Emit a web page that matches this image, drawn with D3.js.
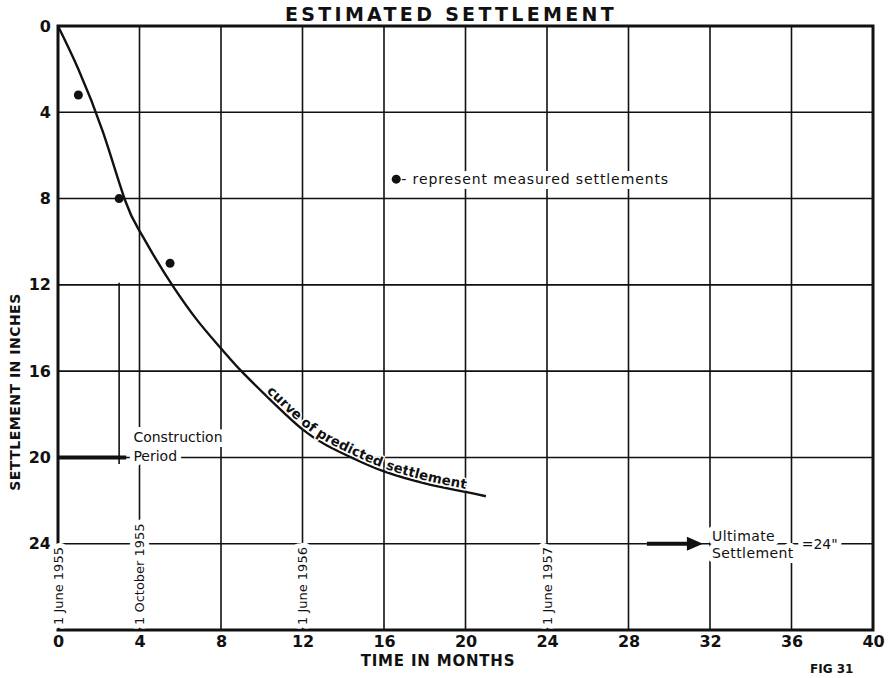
<!DOCTYPE html>
<html>
<head>
<meta charset="utf-8">
<script src="https://cdn.jsdelivr.net/npm/d3@7"></script>
<style>
  body { margin: 0; background: #fff; }
  text { font-family: "DejaVu Sans", sans-serif; fill: #111; }
</style>
</head>
<body>
<script>
// predicted settlement curve (months, inches)
var curveMonths = [0, 1.0, 2.2, 3.3, 4.0, 4.8, 5.6, 6.8, 8.05, 9.0, 10.5, 12.0, 13.2, 14.5, 16.0, 18.0, 20.0, 21.0];
var curveInches = [0, 2.0, 4.9, 8.1, 9.5, 10.8, 12.0, 13.6, 15.0, 16.0, 17.4, 18.7, 19.45, 20.05, 20.65, 21.2, 21.6, 21.8];

// measured settlements
var measuredMonths = [1, 3, 5.5];
var measuredInches = [3.2, 8, 11];

var xTicks = [0, 4, 8, 12, 16, 20, 24, 28, 32, 36, 40];
var yTicks = [0, 4, 8, 12, 16, 20, 24];

var dateLabels = ["1 June 1955", "1 October 1955", "1 June 1956", "1 June 1957"];
var dateMonths = [0, 4, 12, 24];

var constructionEnd = 3;
var ultimateSettlement = 24;

var margin = {top: 26, right: 17, bottom: 48, left: 58},
    width = 890 - margin.left - margin.right,
    height = 678 - margin.top - margin.bottom;

var svg = d3.select("body").append("svg")
    .attr("width", 890)
    .attr("height", 678);

var g = svg.append("g")
    .attr("transform", "translate(" + margin.left + "," + margin.top + ")");

var x = d3.scaleLinear().domain([0, 40]).range([0, width]);
var y = d3.scaleLinear().domain([0, 28]).range([0, height]);

// grid
g.append("g").selectAll("line")
    .data(xTicks.slice(1, -1))
    .enter().append("line")
      .attr("x1", d => x(d)).attr("x2", d => x(d))
      .attr("y1", 0).attr("y2", height)
      .attr("stroke", "#111").attr("stroke-width", 1.6);

g.append("g").selectAll("line")
    .data(yTicks.slice(1))
    .enter().append("line")
      .attr("x1", 0).attr("x2", width)
      .attr("y1", d => y(d)).attr("y2", d => y(d))
      .attr("stroke", "#111").attr("stroke-width", 1.6);

// frame
g.append("rect")
    .attr("width", width).attr("height", height)
    .attr("fill", "none").attr("stroke", "#111").attr("stroke-width", 3);

// axes labels
var yAxis = d3.axisLeft(y).tickValues(yTicks).tickSize(0).tickPadding(7);
g.append("g").call(yAxis)
    .call(s => s.select(".domain").remove())
    .selectAll("text")
      .style("font-size", "16px").style("font-weight", "bold").attr("fill", "#111");

var xAxis = d3.axisBottom(x).tickValues(xTicks).tickSize(0).tickPadding(6);
g.append("g").attr("transform", "translate(0," + height + ")").call(xAxis)
    .call(s => s.select(".domain").remove())
    .selectAll("text")
      .style("font-size", "16px").style("font-weight", "bold").attr("fill", "#111");

svg.append("text")
    .attr("x", 451).attr("y", 21)
    .attr("text-anchor", "middle")
    .style("font-size", "19px").style("font-weight", "bold").style("letter-spacing", "3.3px")
    .text("ESTIMATED SETTLEMENT");

svg.append("text")
    .attr("transform", "translate(20,392) rotate(-90)")
    .attr("text-anchor", "middle")
    .style("font-size", "14px").style("font-weight", "bold").style("letter-spacing", "0.5px")
    .text("SETTLEMENT IN INCHES");

svg.append("text")
    .attr("x", 438).attr("y", 666)
    .attr("text-anchor", "middle")
    .style("font-size", "15px").style("font-weight", "bold").style("letter-spacing", "0.8px")
    .text("TIME IN MONTHS");

svg.append("text")
    .attr("x", 810).attr("y", 673)
    .style("font-size", "12px").style("font-weight", "bold")
    .text("FIG 31");

// halo helper for annotation text
function halo(sel, w) {
  return sel.attr("stroke", "#fff").attr("stroke-width", w)
    .style("paint-order", "stroke").attr("stroke-linejoin", "round");
}

// date labels along the gridlines
g.append("g").selectAll("text")
    .data(dateLabels)
    .enter().append("text")
      .attr("transform", (d, i) => "translate(" + x(dateMonths[i]) + "," + (height - 5) + ") rotate(-90)")
      .attr("dy", "0.36em")
      .style("font-size", "13px")
      .call(halo, 10)
      .text(d => d);

// construction period
g.append("line")
    .attr("x1", x(0)).attr("x2", x(constructionEnd + 0.35))
    .attr("y1", y(20)).attr("y2", y(20))
    .attr("stroke", "#111").attr("stroke-width", 4);
g.append("line")
    .attr("x1", x(constructionEnd)).attr("x2", x(constructionEnd))
    .attr("y1", y(11.9)).attr("y2", y(20.3))
    .attr("stroke", "#111").attr("stroke-width", 1.6);

var cons = g.append("text")
    .attr("x", x(3.7)).attr("y", y(19.3))
    .style("font-size", "14px")
    .call(halo, 10);
cons.append("tspan").text("Construction");
cons.append("tspan").attr("x", x(3.7)).attr("dy", "1.35em").text("Period");

// predicted curve
var pts = curveMonths.map((m, i) => [x(m), y(curveInches[i])]);
var line = d3.line().curve(d3.curveNatural);
var curvePath = g.append("path")
    .attr("id", "predicted")
    .attr("d", line(pts))
    .attr("fill", "none")
    .attr("stroke", "#111")
    .attr("stroke-width", 2.4);

// find offset where the label starts
var node = curvePath.node(), total = node.getTotalLength(), startLen = 0;
for (var L = 0; L < total; L += 1) {
  if (node.getPointAtLength(L).x >= x(10.1)) { startLen = L; break; }
}
g.append("text")
    .attr("dy", -3)
    .style("font-size", "13.5px").style("font-weight", "bold")
    .call(halo, 3)
  .append("textPath")
    .attr("href", "#predicted")
    .attr("startOffset", startLen)
    .text("curve of predicted settlement");

// measured points
g.append("g").selectAll("circle")
    .data(measuredMonths)
    .enter().append("circle")
      .attr("cx", d => x(d))
      .attr("cy", (d, i) => y(measuredInches[i]))
      .attr("r", 4.5)
      .attr("fill", "#111");

// legend
g.append("text")
    .attr("x", x(16.85)).attr("y", y(7.1))
    .attr("dy", "0.35em")
    .style("font-size", "14px").style("letter-spacing", "0.9px")
    .call(halo, 10)
    .text("- represent measured settlements");
g.append("circle")
    .attr("cx", x(16.6)).attr("cy", y(7.1))
    .attr("r", 4.5).attr("fill", "#111");

// ultimate settlement arrow
var ay = y(ultimateSettlement);
g.append("line")
    .attr("x1", x(28.9)).attr("x2", x(31.0))
    .attr("y1", ay).attr("y2", ay)
    .attr("stroke", "#fff").attr("stroke-width", 12);
g.append("line")
    .attr("x1", x(28.9)).attr("x2", x(31.0))
    .attr("y1", ay).attr("y2", ay)
    .attr("stroke", "#111").attr("stroke-width", 4);
g.append("path")
    .attr("d", "M" + x(31.65) + "," + ay + "L" + (x(31.65) - 16) + "," + (ay - 7) + "L" + (x(31.65) - 16) + "," + (ay + 7) + "Z")
    .attr("fill", "#111");

var ult = g.append("text")
    .attr("x", x(32.1)).attr("y", ay - 3)
    .style("font-size", "14px").style("letter-spacing", "0.4px")
    .call(halo, 10);
ult.append("tspan").text("Ultimate");
ult.append("tspan").attr("x", x(32.1)).attr("dy", "1.2em").text("Settlement");

g.append("text")
    .attr("x", x(36.5)).attr("y", ay + 5)
    .style("font-size", "14px")
    .call(halo, 10)
    .text("=24\"");
</script>
</body>
</html>
